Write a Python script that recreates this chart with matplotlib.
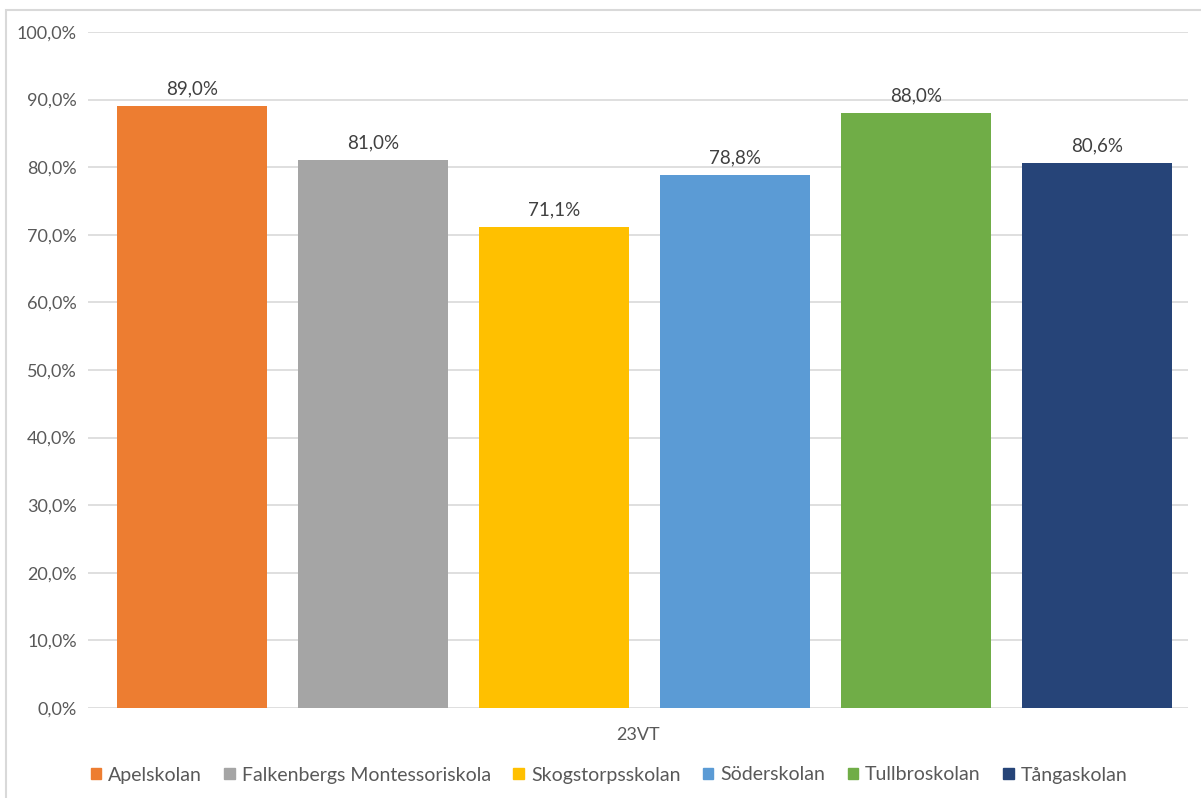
import matplotlib
matplotlib.use("Agg")
import matplotlib.pyplot as plt
from matplotlib.patches import Rectangle, Patch
from matplotlib.ticker import FuncFormatter

plt.rcParams['font.family'] = ['Lato', 'DejaVu Sans']

schools = ["Apelskolan", "Falkenbergs Montessoriskola", "Skogstorpsskolan",
           "Söderskolan", "Tullbroskolan", "Tångaskolan"]
values = [89.0, 81.0, 71.1, 78.8, 88.0, 80.6]
colors = ["#ED7D31", "#A5A5A5", "#FFC000", "#5B9BD5", "#70AD47", "#264478"]
category = "23VT"


def pct(v):
    return f"{v:.1f}%".replace(".", ",")


fig = plt.figure(figsize=(12.01, 7.98), dpi=100)
ax = fig.add_axes([88 / 1201, 1 - 708 / 798, 1100 / 1201, 676 / 798])

width = 150 / 181
n = len(values)
for i, (name, v, c) in enumerate(zip(schools, values, colors)):
    x = i - (n - 1) / 2
    ax.bar(x, v, width=width, color=c, label=name, zorder=3)
    ax.text(x, v + 1.3, pct(v), ha="center", va="bottom",
            fontsize=13.5, color="#404040")

ax.set_xlim(-2.5 - 104 / 181, -2.5 + 996 / 181)
ax.set_ylim(0, 100)
ax.set_yticks(range(0, 101, 10))
ax.yaxis.set_major_formatter(FuncFormatter(lambda v, p: pct(v)))
ax.tick_params(axis="y", length=0, pad=8, labelsize=13, labelcolor="#595959")
ax.set_xticks([])
ax.grid(axis="y", color="#D9D9D9", linewidth=1.2, zorder=0)
for s in ax.spines.values():
    s.set_visible(False)

fig.text(638 / 1201, 1 - 735 / 798, category, ha="center", va="center",
         fontsize=13, color="#595959")

handles = [Patch(color=c, label=s) for s, c in zip(schools, colors)]
fig.legend(handles=handles, loc="center", bbox_to_anchor=(609 / 1201, 1 - 775 / 798),
           ncol=6, frameon=False, fontsize=14, handlelength=0.55, handleheight=0.55,
           handletextpad=0.35, columnspacing=1.15, labelcolor="#595959")

fig.patches.append(Rectangle((6 / 1201, -0.1), 1.2, 0.1 + 1 - 10 / 798,
                             transform=fig.transFigure, fill=False,
                             edgecolor="#D9D9D9", linewidth=1.5, clip_on=False))

fig.savefig("out.png", dpi=100, facecolor="white")
